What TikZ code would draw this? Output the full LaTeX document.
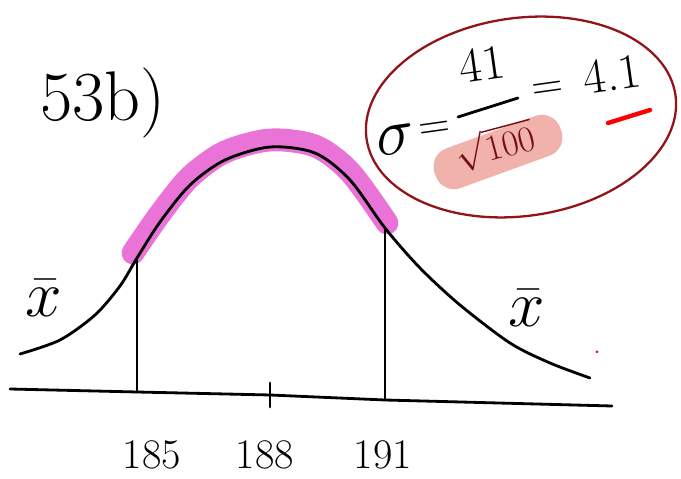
\documentclass[tikz,border=0pt]{standalone}
\usetikzlibrary{shapes.geometric}
\definecolor{inkred}{RGB}{145,20,25}
\definecolor{hilite}{RGB}{232,100,212}
\definecolor{blush}{RGB}{242,178,172}
\begin{document}
\begin{tikzpicture}[x=0.02cm,y=-0.02cm,
  every node/.style={inner sep=0pt},
  ink/.style={line width=1.6pt,line cap=round,line join=round},
  big/.style={font=\fontsize{40}{40}\selectfont},
  lab/.style={font=\fontsize{24}{24}\selectfont},
  frm/.style={font=\fontsize{28}{28}\selectfont}]
  \useasboundingbox (0,0) rectangle (681,479);

  % Titel
  \node[big] (title) at (103,103) {53b)};

  % Achse
  \coordinate (axL) at (10,389);
  \coordinate (axR) at (612,406);
  \coordinate (f185) at (137,392);
  \coordinate (f188) at (270,395);
  \coordinate (f191) at (385,400);
  \draw[ink] (axL) -- (f185) -- (f188) -- (f191) -- (axR);
  \draw[ink] (270,383) -- (270,407);

  % Glocke
  \coordinate (t185) at (137,258);
  \coordinate (t191) at (385,228);
  \draw[line width=13pt,hilite,opacity=.9,line cap=round]
    plot[smooth] coordinates {(133,253) (160,214) (190,177) (225,152) (270,140) (315,146) (350,172) (387,223)};
  \draw[ink] plot[smooth] coordinates {(20,354) (60,340) (95,315) (120,286) (137,258) (160,222) (190,185) (225,160) (270,147) (315,153) (350,180) (385,228) (420,268) (460,305) (510,343) (550,363) (590,378)};
  \foreach \top/\foot in {t185/f185, t191/f191}
    \draw[ink] (\top) -- (\foot);

  % Werte
  \node[lab] (v185) at (152,455) {185};
  \node[lab] (v188) at (265,455) {188};
  \node[lab] (v191) at (383,455) {191};
  \node[frm,scale=1.5] (xl) at (44,298) {$\bar{x}$};
  \node[frm,scale=1.5] (xr) at (527,308) {$\bar{x}$};
  \fill[red] (597,352) circle (1.5);

  % Formel
  \draw[inkred,line width=1.3pt] (521,117) ellipse [x radius=156, y radius=99, rotate=8];
  \node[rotate=20,fill=blush,rounded corners=11pt,minimum width=76,minimum height=24] (blob) at (498,152) {};
  \node[frm,scale=1.5,rotate=8] (sig) at (396,140) {$\sigma$};
  \node[frm,rotate=8] (eq1) at (435,131) {$=$};
  \node[frm,rotate=8] (num) at (482,64) {41};
  \node[font=\fontsize{22}{22}\selectfont,rotate=15,text=inkred!80!black] (den) at (495,146) {$\sqrt{100}$};
  \draw[ink] (458,117) -- (518,98);
  \node[frm,rotate=8] (eq2) at (548,91) {$=$};
  \node[frm,rotate=8] (val) at (612,74) {4.1};
  \draw[red,line width=2.5pt,line cap=round] (608,123) -- (650,110);
\end{tikzpicture}
\end{document}
